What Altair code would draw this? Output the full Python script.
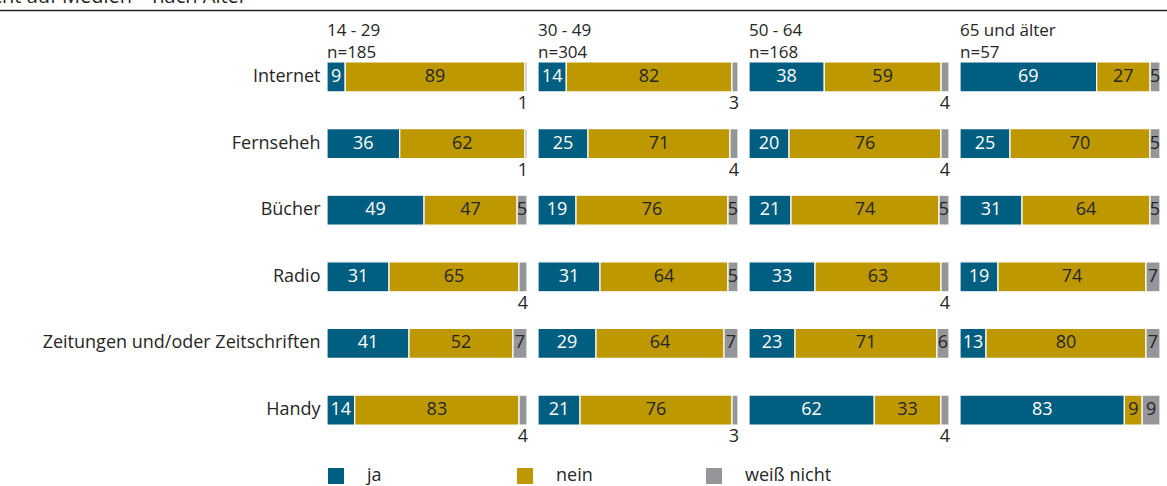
import altair as alt
import pandas as pd

ages = ["14 - 29", "30 - 49", "50 - 64", "65 und älter"]
ns = ["n=185", "n=304", "n=168", "n=57"]
media = ["Internet", "Fernseheh", "Bücher", "Radio",
         "Zeitungen und/oder  Zeitschriften", "Handy"]
answers = ["ja", "nein", "weiß nicht"]
ja = [[9, 36, 49, 31, 41, 14], [14, 25, 19, 31, 29, 21],
      [38, 20, 21, 33, 23, 62], [69, 25, 31, 19, 13, 83]]
nein = [[89, 62, 47, 65, 52, 83], [82, 71, 76, 64, 64, 76],
        [59, 76, 74, 63, 71, 33], [27, 70, 64, 74, 80, 9]]
weiss = [[1, 1, 5, 4, 7, 4], [3, 4, 5, 5, 7, 3],
         [4, 4, 5, 4, 6, 4], [5, 5, 5, 7, 7, 9]]
header_text = "Verzicht auf Medien – nach Alter"

colors = ["#005E80", "#BD9800", "#95969A"]
FONT = "Open Sans"
DARK = "#262626"
STEP = 1.055          # panel step (1 = full bar, plus the gap between panels)
DOMAIN_MAX = 3 * STEP + 1

rows = []
for a, age in enumerate(ages):
    for m, med in enumerate(media):
        for k, (ans, src) in enumerate(zip(answers, [ja, nein, weiss])):
            rows.append({"age": age, "p": a, "medium": med, "answer": ans,
                         "order": k, "value": src[a][m]})
df = pd.DataFrame(rows)
df_t = pd.DataFrame({"age": ages, "n": ns, "p": list(range(4))})

xscale = alt.Scale(domain=[0, DOMAIN_MAX], nice=False, zero=False)
yscale = alt.Scale(paddingInner=0.55, paddingOuter=0)
yax = alt.Axis(title=None, domain=False, ticks=False, labelFont=FONT,
               labelFontSize=18, labelColor=DARK, labelPadding=7,
               labelLimit=400)
yenc = alt.Y("medium:N", sort=media, scale=yscale, axis=yax)

base = (
    alt.Chart(df)
    .transform_joinaggregate(total="sum(value)", groupby=["age", "medium"])
    .transform_calculate(pct="datum.value / datum.total")
    .transform_stack(stack="pct", groupby=["age", "medium"],
                     sort=[alt.SortField("order")], as_=["x0", "x1"])
    .transform_calculate(
        xs=f"datum.p * {STEP} + datum.x0",
        xe=f"datum.p * {STEP} + datum.x1",
        mid=f"datum.p * {STEP} + (datum.x0 + datum.x1) / 2",
    )
)

bars = base.mark_bar(stroke="white", strokeWidth=1.2).encode(
    x=alt.X("xs:Q", scale=xscale, axis=None),
    x2="xe:Q",
    y=yenc,
    color=alt.Color(
        "answer:N",
        scale=alt.Scale(domain=answers, range=colors),
        legend=alt.Legend(
            title=None, orient="none", legendX=0, legendY=405,
            direction="horizontal", gridAlign="all", columnPadding=62,
            symbolType="square", symbolSize=256, symbolStrokeWidth=0,
            symbolOpacity=1, labelFont=FONT, labelFontSize=18,
            labelColor=DARK, labelOffset=22,
        ),
    ),
)

t_ja = base.transform_filter(alt.datum.answer == "ja").mark_text(
    font=FONT, fontSize=18, color="white", baseline="middle"
).encode(x=alt.X("mid:Q", scale=xscale), y=yenc, text="value:Q")

t_in = base.transform_filter(
    "datum.answer == 'nein' || (datum.answer == 'weiß nicht' && datum.value >= 5)"
).mark_text(font=FONT, fontSize=18, color=DARK, baseline="middle").encode(
    x=alt.X("mid:Q", scale=xscale), y=yenc, text="value:Q")

t_out = base.transform_filter(
    "datum.answer == 'weiß nicht' && datum.value < 5"
).mark_text(font=FONT, fontSize=18, color=DARK, baseline="middle",
            align="right", dy=27, dx=1).encode(
    x=alt.X("xe:Q", scale=xscale), y=yenc, text="value:Q")

tbase = alt.Chart(df_t).transform_calculate(xpos=f"datum.p * {STEP}")
t_age = tbase.mark_text(font=FONT, fontSize=17, color=DARK, align="left",
                        baseline="alphabetic").encode(
    x=alt.X("xpos:Q", scale=xscale), y=alt.value(-26), text="age:N")
t_n = tbase.mark_text(font=FONT, fontSize=17, color=DARK, align="left",
                      baseline="alphabetic").encode(
    x=alt.X("xpos:Q", scale=xscale), y=alt.value(-4), text="n:N")

hdr = pd.DataFrame({"t": [header_text]})
rule = alt.Chart(hdr).mark_rule(color=DARK, strokeWidth=1.5).encode(
    x=alt.value(-327), x2=alt.value(840), y=alt.value(-51.5))
htxt = alt.Chart(hdr).mark_text(
    align="right", baseline="alphabetic", font=FONT, fontSize=20,
    color=DARK).encode(x=alt.value(-80), y=alt.value(-59), text="t:N")

chart = (
    alt.layer(bars, t_ja, t_in, t_out, t_age, t_n, rule, htxt)
    .properties(
        width=833, height=363,
        autosize=alt.AutoSizeParams(type="none"),
        padding={"left": 327, "top": 62, "right": 7, "bottom": 61},
    )
    .configure_view(stroke=None)
)

chart.save("out.html", embed_options={"renderer": "svg", "actions": False})
